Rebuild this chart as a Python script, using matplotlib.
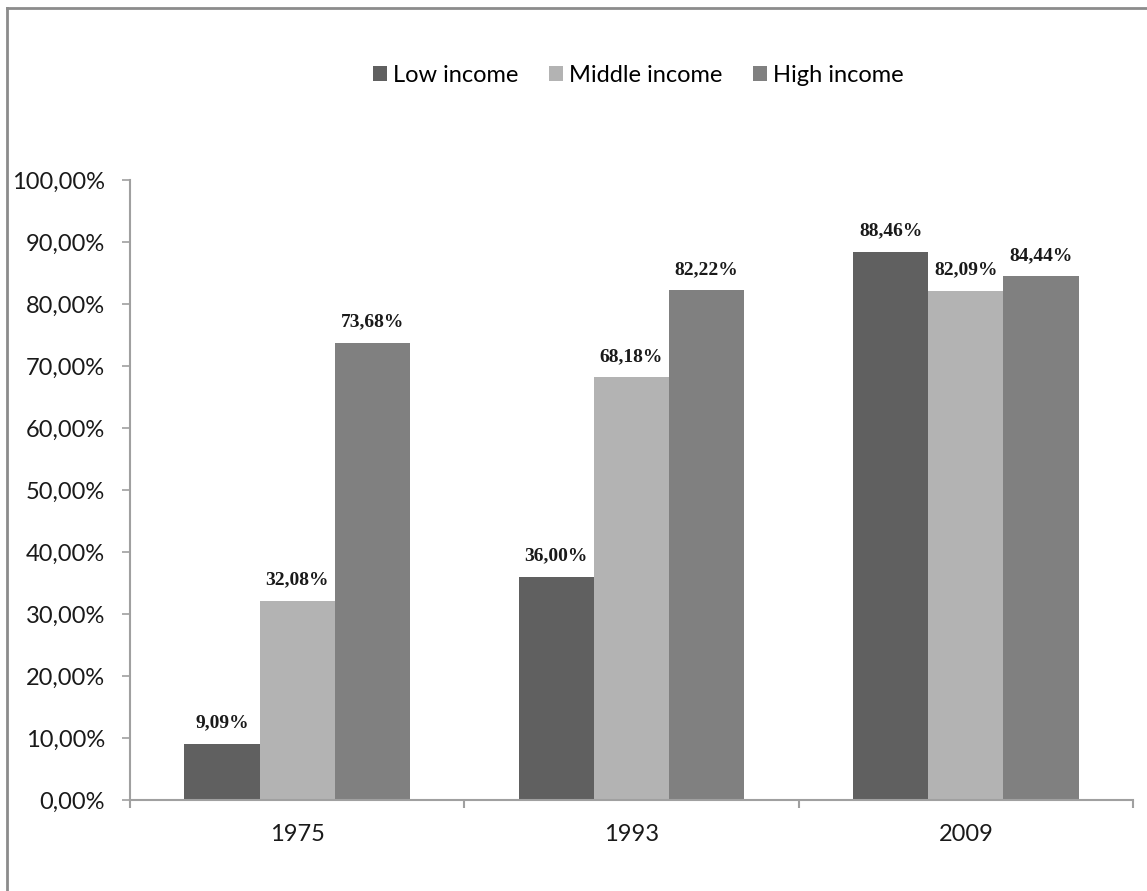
import matplotlib
matplotlib.use("Agg")
import matplotlib.pyplot as plt
from matplotlib.lines import Line2D
from matplotlib.ticker import FuncFormatter
import numpy as np

YEARS = ["1975", "1993", "2009"]
GROUPS = ["Low income", "Middle income", "High income"]
LOW = [9.09, 36.00, 88.46]
MIDDLE = [32.08, 68.18, 82.09]
HIGH = [73.68, 82.22, 84.44]
COLORS = ["#606060", "#b3b3b3", "#808080"]

BAR_W = 0.225
AXIS_GRAY = "#a0a0a0"
TICK_FONT = "Lato"
LABEL_FONT = "Liberation Serif"


def pct(v, pos = None):
	return ("%.2f%%" % v).replace(".", ",")


fig = plt.figure(figsize = (11.47, 8.91), dpi = 100)
ax = fig.add_axes([130 / 1147, 91 / 891, 1003 / 1147, 620 / 891])

# frame around the whole chart area
fig.add_artist(Line2D([7 / 1147, 7 / 1147], [-0.1, 1 - 8 / 891],
	transform = fig.transFigure, color = "#8c8c8c", lw = 2))
fig.add_artist(Line2D([7 / 1147, 1.1], [1 - 8 / 891, 1 - 8 / 891],
	transform = fig.transFigure, color = "#8c8c8c", lw = 2))

x = np.arange(len(YEARS))
series = [LOW, MIDDLE, HIGH]
for i, (name, vals, col) in enumerate(zip(GROUPS, series, COLORS)):
	pos = x + (i - 1) * BAR_W
	ax.bar(pos, vals, width = BAR_W, color = col, label = name, zorder = 2)
	for p, v in zip(pos, vals):
		ax.annotate(pct(v), (p, v), xytext = (0, 9), textcoords = "offset points",
			ha = "center", va = "bottom", fontsize = 14, fontweight = "bold",
			family = LABEL_FONT, color = "#1a1a1a")

ax.set_xlim(-0.5, len(YEARS) - 0.5)
ax.set_ylim(0, 100)
ax.set_yticks(np.arange(0, 101, 10))
ax.yaxis.set_major_formatter(FuncFormatter(pct))
ax.set_xticks(x)
ax.set_xticklabels(YEARS)
ax.set_xticks(np.arange(-0.5, len(YEARS)), minor = True)
ax.tick_params(axis = "x", which = "major", length = 0, pad = 17)
ax.tick_params(axis = "x", which = "minor", length = 6, width = 1.5,
	color = AXIS_GRAY, direction = "out")
ax.tick_params(axis = "y", length = 6, width = 1.2, color = AXIS_GRAY,
	direction = "out", pad = 12)
for lab in ax.get_xticklabels() + ax.get_yticklabels():
	lab.set_family(TICK_FONT)
	lab.set_fontsize(17)
	lab.set_color("#1a1a1a")

for s in ["top", "right"]:
	ax.spines[s].set_visible(False)
for s in ["left", "bottom"]:
	ax.spines[s].set_color(AXIS_GRAY)
	ax.spines[s].set_linewidth(1.5)

fig.legend(loc = "center", bbox_to_anchor = (638 / 1147, 1 - 75 / 891), ncol = 3,
	frameon = False, handlelength = 0.6, handleheight = 0.6, handletextpad = 0.25,
	columnspacing = 1.3, prop = {"family": TICK_FONT, "size": 17})

fig.savefig("out.png", dpi = 100)
